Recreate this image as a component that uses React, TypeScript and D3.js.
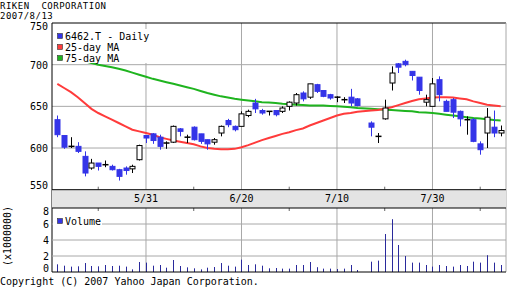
import React from "react";
import * as d3 from "d3";

const title = "RIKEN  CORPORATION";
const asOf = "2007/8/13";
const year = 2007;
const firstDay = "5/14";
const lastDay = "8/13";

const dates = ["5/14","5/15","5/16","5/17","5/18","5/21","5/22","5/23","5/24","5/25","5/28","5/29","5/30","5/31","6/1","6/4","6/5","6/6","6/7","6/8","6/11","6/12","6/13","6/14","6/15","6/18","6/19","6/20","6/21","6/22","6/25","6/26","6/27","6/28","6/29","7/2","7/3","7/4","7/5","7/6","7/9","7/10","7/11","7/12","7/13","7/17","7/18","7/19","7/20","7/23","7/24","7/25","7/26","7/27","7/30","7/31","8/1","8/2","8/3","8/6","8/7","8/8","8/9","8/10","8/13"];
const open  = [634,615,602,602,590,576,582,580,578,574,576,575,586,615,617,613,606,607,623,613,625,617,610,607,618,633,626,626,639,654,645,644,645,644,650,654,666,661,676,669,664,661,658,661,659,630,614,635,678,701,704,692,685,655,650,682,656,658,644,634,634,605,618,625,618];
const high  = [639,615,613,607,596,587,582,585,580,575,578,580,604,615,618,616,608,627,624,616,626,617,610,612,627,635,627,644,646,659,647,644,645,650,656,666,668,677,677,669,665,662,661,671,660,632,618,658,698,702,706,692,685,664,684,686,658,660,645,638,636,608,648,645,627];
const low   = [613,599,600,594,566,574,573,577,573,561,568,570,585,606,605,598,599,606,614,606,609,605,598,604,614,625,620,626,637,642,640,639,638,642,645,651,656,659,666,661,658,655,654,650,650,614,606,634,669,690,698,681,664,650,650,656,644,636,626,616,607,592,600,613,614];
const close = [616,601,602,596,570,582,578,580,574,566,573,578,603,612,609,602,606,626,620,613,610,608,605,610,626,628,622,641,644,647,642,644,640,648,655,664,659,677,668,662,660,661,658,654,651,625,614,648,690,697,700,687,669,658,677,664,644,643,635,634,608,598,637,618,621];
const volume = [0.96,0.79,0.67,0.71,1.12,0.75,0.71,0.875,0.75,0.79,0.67,0.33,1.25,1.17,0.79,0.875,0.54,1.5,0.75,0.58,0.46,0.33,0.54,0.62,1.12,0.79,0.67,1.54,0.875,0.96,0.79,0.46,0.5,0.42,0.42,0.875,0.875,1.25,0.6,0.42,0.42,0.375,0.42,0.875,0.25,1.29,1.42,4.75,6.6,3.375,2.0,1.17,1.17,0.875,0.67,0.875,0.75,0.67,0.875,0.75,1.29,1.17,2.1,1.17,0.875];
const ma25 = [677,672,667,661,654,647,642,638,634,630,626,622,620,618,616,613,611,609,607.5,606,604.5,602,600,599,598.5,598.5,599,601,603.5,606.5,609.5,612,614.5,617,619,621.5,623.5,627,630,633,636,639,641,642,643.5,645,645.5,647,649,651.5,654,656.5,658.5,659.5,660.5,661,661,660.5,659.5,658.5,656,654,652,651,650];
const ma75 = [712,710,708,706,704,702,700,698.5,697,695,693,690.5,688,685.5,683,681,679,677,675,673,671,668.5,666,664,662,660.5,659,658,657,656,655,654.5,654,653,652.5,652,651.5,651,651,651,650.5,650,649.5,649,648,647,646.5,646,645.5,645,644.5,644,643,642.5,642,641,640,639,638,637,636,635.5,634.5,633.5,633];

const priceTicks = [750, 700, 650, 600, 550];
const volTicks = [8, 6, 4, 2, 0];
const majorDates = ["5/31", "6/20", "7/10", "7/30"];
const minorDates = ["5/22", "6/11", "6/29", "7/19", "8/8"];
const legendLabels = ["6462.T - Daily", "25-day MA", "75-day MA"];
const volumeLabel = "Volume";
const volumeUnit = "(x1000000)";
const copyright = "Copyright (C) 2007 Yahoo Japan Corporation.";

const BLUE = "#3434e8";
const RED = "#ff3b3b";
const GREEN = "#1fb41f";
const VOLC = "#2a2a9c";
const GRID = "#a8a8a8";
const FONT = "DejaVu Sans Mono, monospace";

function toDate(s: string) {
  const [m, d] = s.split("/").map(Number);
  return new Date(year, m - 1, d);
}
const start = toDate(firstDay);
function slot(s: string) {
  return d3.timeDay.range(start, toDate(s)).filter((d) => d.getDay() % 6 !== 0).length;
}
const nSlots = slot(lastDay);

export default function App() {
  const L = 52, R = 506;
  const mainTop = 23, mainBot = 189.7;
  const volTop = 208, volBot = 272;
  const x = d3.scaleLinear().domain([-0.78, nSlots + 0.78]).range([L, R]);
  const y = d3.scaleLinear().domain([550, 750]).range([mainBot, mainTop]);
  const yv = d3.scaleLinear().domain([0, 8]).range([volBot, volTop]);
  const slots = dates.map(slot);

  const line25 = d3.line<number>().x((_, i) => x(slots[i])).y((v) => y(v));
  const line75 = d3.line<number>().x((_, i) => x(slots[i])).y((v) => y(v));

  const bw = 5;
  return (
    <svg width={512} height={288} style={{ position: "absolute", left: 0, top: 0, background: "#fff" }}
      fontFamily={FONT} fontSize={10}>
      <rect x={0} y={0} width={512} height={288} fill="#fff" />
      <text x={0} y={8.5} fontSize={9} letterSpacing={0.5} fill="#000">{title.replace(/ /g, "\u00a0")}</text>
      <text x={0} y={18.5} fontSize={9} letterSpacing={0.5} fill="#000">{asOf}</text>

      {/* main grid */}
      {priceTicks.slice(1, -1).map((p) => (
        <line key={p} x1={L} x2={R} y1={y(p)} y2={y(p)} stroke={GRID} />
      ))}
      {majorDates.map((d) => (
        <g key={d}>
          <line x1={x(slot(d))} x2={x(slot(d))} y1={mainTop} y2={mainBot} stroke={GRID} />
          <line x1={x(slot(d))} x2={x(slot(d))} y1={volTop} y2={volBot} stroke={GRID} />
        </g>
      ))}
      {minorDates.map((d) => (
        <g key={d}>
          <line x1={x(slot(d))} x2={x(slot(d))} y1={mainBot - 3} y2={mainBot} stroke="#666" />
          <line x1={x(slot(d))} x2={x(slot(d))} y1={volTop} y2={volTop + 3} stroke="#666" />
        </g>
      ))}

      {/* moving averages */}
      <path d={line75(ma75) || ""} fill="none" stroke={GREEN} strokeWidth={2} />
      <path d={line25(ma25) || ""} fill="none" stroke={RED} strokeWidth={2} />

      {/* candles */}
      {dates.map((d, i) => {
        const cx = Math.round(x(slots[i])) + 0.5;
        const up = close[i] > open[i];
        const doji = close[i] === open[i];
        const col = up || doji ? "#000" : BLUE;
        const top = y(Math.max(open[i], close[i]));
        const bot = y(Math.min(open[i], close[i]));
        return (
          <g key={d}>
            <line x1={cx} x2={cx} y1={y(high[i])} y2={y(low[i])} stroke={col} />
            {doji ? (
              <line x1={cx - 3} x2={cx + 3} y1={top} y2={top} stroke="#000" strokeWidth={1.5} />
            ) : (
              <rect x={cx - bw / 2} y={top} width={bw} height={Math.max(1, bot - top)}
                fill={up ? "#fff" : BLUE} stroke={col} strokeWidth={1} />
            )}
          </g>
        );
      })}

      {/* legend */}
      <rect x={53} y={29} width={98} height={34} fill="#fff" />
      {legendLabels.map((t, i) => (
        <g key={t}>
          <rect x={57.5} y={33.5 + i * 11} width={5} height={5}
            fill={[BLUE, RED, GREEN][i]} stroke="#333" strokeWidth={0.6} />
          <text x={65} y={39.5 + i * 11} fill="#000">{t}</text>
        </g>
      ))}

      {/* main frame */}
      <line x1={L} x2={L} y1={mainTop} y2={volBot} stroke="#000" />
      <line x1={L} x2={R} y1={mainTop} y2={mainTop} stroke="#000" />
      <line x1={R} x2={R} y1={mainTop} y2={volBot} stroke={GRID} />
      <rect x={L} y={mainBot} width={R - L} height={volTop - mainBot} fill="#e4e4e4" />
      <line x1={L} x2={R} y1={mainBot} y2={mainBot} stroke="#000" />
      <line x1={L} x2={R} y1={volTop} y2={volTop} stroke="#000" />
      {majorDates.map((d) => (
        <text key={d} x={x(slot(d))} y={202} textAnchor="middle" fill="#000">{d}</text>
      ))}

      {/* price labels */}
      {priceTicks.map((p, i) => (
        <text key={p} x={48} y={y(p) + (i === 0 ? 7 : i === priceTicks.length - 1 ? -1 : 4)}
          textAnchor="end" fill="#000">{p}</text>
      ))}

      {/* volume */}
      {volTicks.slice(1, -1).map((v) => (
        <line key={v} x1={L} x2={R} y1={yv(v)} y2={yv(v)} stroke={GRID} />
      ))}
      {dates.map((d, i) => (
        <line key={d} x1={Math.round(x(slots[i])) + 0.5} x2={Math.round(x(slots[i])) + 0.5}
          y1={yv(0)} y2={yv(volume[i])} stroke={VOLC} strokeWidth={1} />
      ))}
      <rect x={53} y={214} width={49} height={13} fill="#fff" />
      <rect x={57.5} y={218.5} width={5} height={5} fill={BLUE} stroke="#333" strokeWidth={0.6} />
      <text x={65} y={224.5} fill="#000">{volumeLabel}</text>
      <line x1={L} x2={R} y1={volBot} y2={volBot} stroke="#000" />
      {volTicks.map((v, i) => (
        <text key={v} x={49} y={yv(v) + (i === 0 ? 7 : i === volTicks.length - 1 ? 0 : 4)}
          textAnchor="end" fill="#000">{v}</text>
      ))}
      <text transform="translate(11,236) rotate(-90)" textAnchor="middle" fill="#000">{volumeUnit}</text>

      <text x={0} y={285} fill="#000">{copyright}</text>
    </svg>
  );
}
